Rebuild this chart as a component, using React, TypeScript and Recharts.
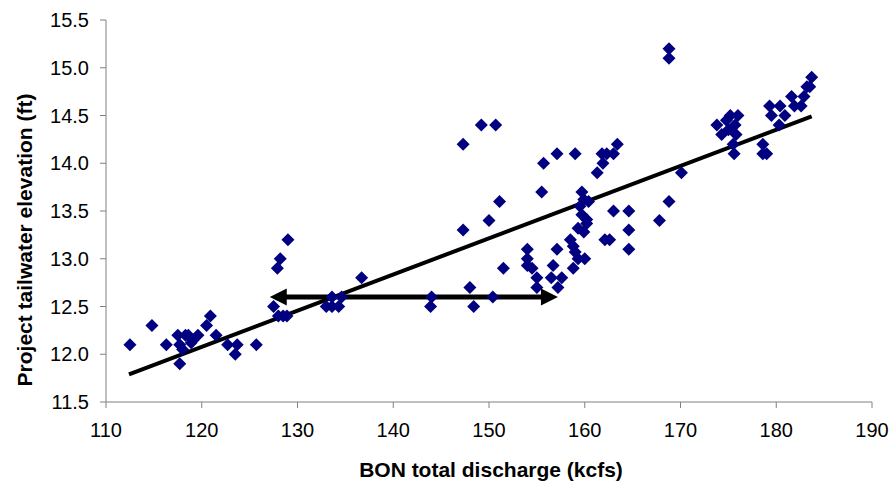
import { ScatterChart, Scatter, XAxis, YAxis, ReferenceLine, Label } from 'recharts';

// BON total discharge (kcfs)
const discharge = [
  112.5, 114.8, 116.3, 117.7, 117.5, 117.7, 118.3, 118.6, 118.0, 118.9, 119.1, 119.6, 120.5, 120.9, 121.5, 122.7, 123.7, 123.5, 125.7,
  127.5, 128.0, 128.5, 128.9, 127.9, 128.2, 129.0,
  133.0, 133.6, 134.3, 133.6, 134.6, 136.7,
  144.0, 143.9,
  147.3, 149.2, 150.7, 147.3, 150.0, 151.1, 148.0, 148.4, 150.4, 151.5,
  154.0, 154.0, 154.0, 154.5, 155.0, 155.0, 155.5, 155.7, 156.5, 156.7, 157.1, 157.1, 157.2, 157.6,
  158.5, 158.8, 158.8, 159.0, 159.0, 159.3, 160.0,
  159.7, 159.9, 160.4, 159.5, 159.7, 160.2, 159.3, 159.9, 160.2,
  161.3, 161.9, 161.8, 162.3, 163.0, 163.4, 163.0, 164.6, 164.6, 162.1, 162.6, 164.6,
  167.8, 168.8, 170.1, 168.8, 168.8,
  173.8, 174.3, 174.8, 175.0, 175.2, 175.7, 176.0, 175.5, 175.6, 175.8,
  178.6, 178.6, 179.0, 179.3, 179.5, 180.3, 180.4, 180.9,
  181.6, 181.9, 182.6, 182.9, 183.2, 183.5, 183.7,
];

// Project tailwater elevation (ft)
const tailwater = [
  12.1, 12.3, 12.1, 11.9, 12.2, 12.1, 12.2, 12.2, 12.05, 12.12, 12.15, 12.2, 12.3, 12.4, 12.2, 12.1, 12.1, 12.0, 12.1,
  12.5, 12.4, 12.4, 12.4, 12.9, 13.0, 13.2,
  12.5, 12.5, 12.5, 12.6, 12.6, 12.8,
  12.6, 12.5,
  14.2, 14.4, 14.4, 13.3, 13.4, 13.6, 12.7, 12.5, 12.6, 12.9,
  13.1, 13.0, 12.93, 12.9, 12.8, 12.7, 13.7, 14.0, 12.8, 12.93, 13.1, 14.1, 12.7, 12.8,
  13.2, 13.13, 12.9, 13.07, 14.1, 13.0, 13.0,
  13.7, 13.62, 13.6, 13.55, 13.46, 13.41, 13.32, 13.28, 13.37,
  13.9, 14.0, 14.1, 14.1, 14.1, 14.2, 13.5, 13.5, 13.3, 13.2, 13.2, 13.1,
  13.4, 13.6, 13.9, 15.2, 15.1,
  14.4, 14.3, 14.45, 14.35, 14.5, 14.4, 14.5, 14.2, 14.1, 14.3,
  14.2, 14.1, 14.1, 14.6, 14.5, 14.4, 14.6, 14.5,
  14.7, 14.6, 14.6, 14.7, 14.8, 14.8, 14.9,
];

const xTicks = [110, 120, 130, 140, 150, 160, 170, 180, 190];
const yTicks = [11.5, 12.0, 12.5, 13.0, 13.5, 14.0, 14.5, 15.0, 15.5];

// linear trendline ends
const trendX = [112.4, 183.7];
const trendY = [11.79, 14.49];

// double arrow annotation
const arrowX = [127.1, 157.2];
const arrowY = 12.6;

const points = discharge.map((x, i) => ({ x, y: tailwater[i] }));

const font = "'Liberation Sans', Arial, sans-serif";

const Diamond = (props: any) => {
  const { cx, cy } = props;
  const r = 6.5;
  return (
    <polygon
      points={`${cx},${cy - r} ${cx + r},${cy} ${cx},${cy + r} ${cx - r},${cy}`}
      fill="#000080"
    />
  );
};

const DoubleArrow = (props: any) => {
  const { x1, y1, x2 } = props;
  const left = Math.min(x1, x2);
  const right = Math.max(x1, x2);
  const head = 17;
  const half = 8.5;
  return (
    <g>
      <line x1={left + head - 2} y1={y1} x2={right - head + 2} y2={y1} stroke="#000" strokeWidth={5} />
      <polygon points={`${left},${y1} ${left + head},${y1 - half} ${left + head},${y1 + half}`} fill="#000" />
      <polygon points={`${right},${y1} ${right - head},${y1 - half} ${right - head},${y1 + half}`} fill="#000" />
    </g>
  );
};

export default function App() {
  return (
    <div style={{ position: 'absolute', left: 0, top: 0, background: '#fff', fontFamily: font }}>
      <ScatterChart width={893} height={487} margin={{ top: 20, right: 21, bottom: 0, left: 0 }}>
        <XAxis
          type="number"
          dataKey="x"
          domain={[110, 190]}
          ticks={xTicks}
          height={85}
          stroke="#808080"
          tickSize={6}
          tickMargin={15}
          tick={{ fill: '#000', fontSize: 20, fontFamily: font }}
        >
          <Label
            content={() => (
              <text x={491} y={477} textAnchor="middle" fontSize={21} fontWeight="bold" fontFamily={font} fill="#000">
                BON total discharge (kcfs)
              </text>
            )}
          />
        </XAxis>
        <YAxis
          type="number"
          dataKey="y"
          domain={[11.5, 15.5]}
          ticks={yTicks}
          width={106}
          stroke="#808080"
          tickSize={6}
          tickMargin={11}
          tickFormatter={(v: number) => v.toFixed(1)}
          tick={{ fill: '#000', fontSize: 20, fontFamily: font }}
        >
          <Label
            content={() => (
              <text
                x={24}
                y={240}
                transform="rotate(-90 24 240)"
                textAnchor="middle"
                dominantBaseline="central"
                fontSize={21}
                fontWeight="bold"
                fontFamily={font}
                fill="#000"
              >
                Project tailwater elevation (ft)
              </text>
            )}
          />
        </YAxis>
        <Scatter data={points} shape={<Diamond />} isAnimationActive={false} />
        <ReferenceLine
          segment={[
            { x: trendX[0], y: trendY[0] },
            { x: trendX[1], y: trendY[1] },
          ]}
          stroke="#000"
          strokeWidth={4}
        />
        <ReferenceLine
          segment={[
            { x: arrowX[0], y: arrowY },
            { x: arrowX[1], y: arrowY },
          ]}
          shape={<DoubleArrow />}
        />
      </ScatterChart>
    </div>
  );
}
